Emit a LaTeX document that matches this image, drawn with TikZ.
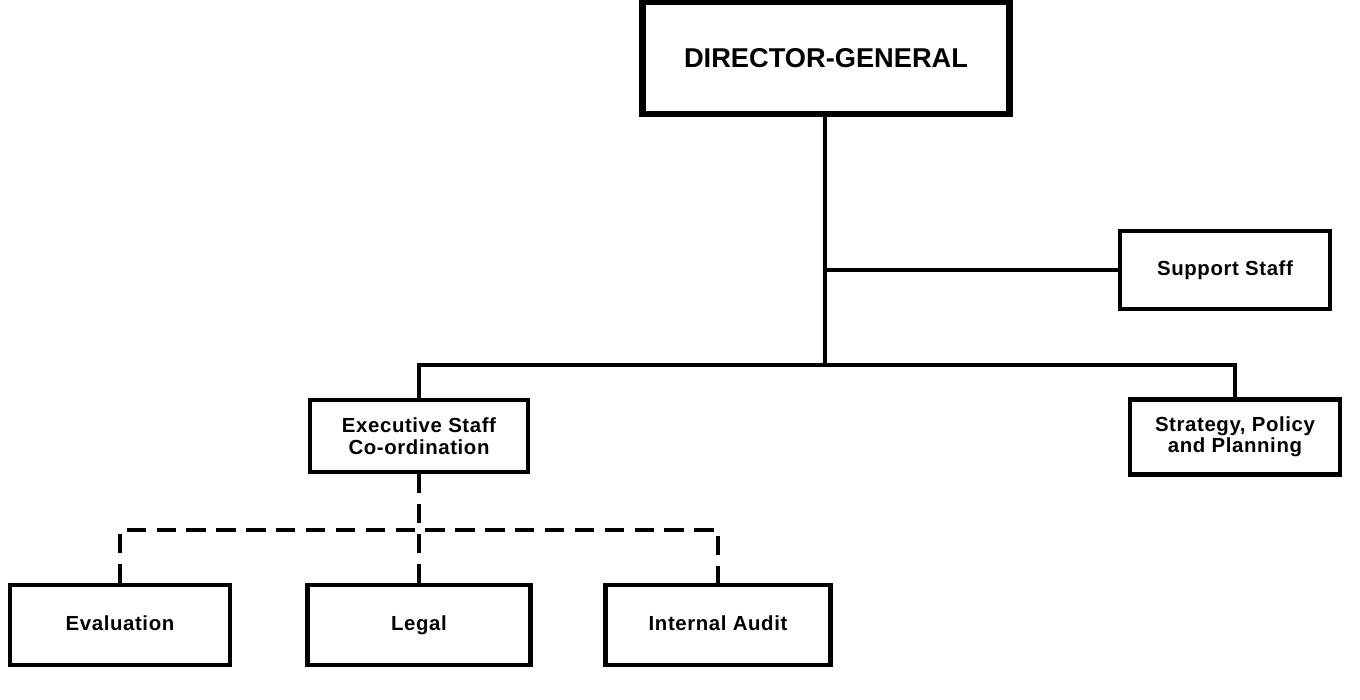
\documentclass[tikz,border=0pt]{standalone}
\usepackage{fontspec}
\setmainfont{Liberation Sans}
\newfontfamily\boxfont[LetterSpace=3]{Liberation Sans}
\begin{document}
\begin{tikzpicture}[x=0.02cm,y=-0.02cm,
  box/.style={draw, line width=2.3pt, fill=white, align=center, font=\boxfont\bfseries\fontsize{11.6}{12.2}\selectfont, inner sep=0pt},
  onebox/.style={box, text height=8.5pt, text depth=2.5pt},
  bigbox/.style={draw, line width=3.6pt, fill=white, align=center, font=\bfseries\fontsize{15.5}{16}\selectfont, inner sep=0pt},
  conn/.style={line width=1.9pt},
  dconn/.style={line width=1.9pt, dash pattern=on 11pt off 6pt}]
\useasboundingbox (0,0) rectangle (1360,700);
\node[bigbox, minimum width=367*0.02cm, minimum height=112*0.02cm] (dg) at (826,58) {DIRECTOR-GENERAL};
\node[onebox, minimum width=210*0.02cm, minimum height=78*0.02cm] (sup) at (1225,270) {Support Staff};
\node[box, minimum width=218*0.02cm, minimum height=72*0.02cm] (exec) at (419,436) {Executive Staff\\Co-ordination};
\node[box, minimum width=210*0.02cm, minimum height=75*0.02cm] (strat) at (1235,437) {Strategy, Policy\\and Planning};
\node[onebox, minimum width=220*0.02cm, minimum height=80*0.02cm] (eval) at (120,625) {Evaluation};
\node[onebox, minimum width=223*0.02cm, minimum height=80*0.02cm] (legal) at (419,625) {Legal};
\node[onebox, minimum width=225*0.02cm, minimum height=80*0.02cm] (audit) at (718,625) {Internal Audit};
\coordinate (j) at (825,365);
\coordinate (s) at (825,270);
\coordinate (d) at (419,530);
\draw[conn] (dg.south -| j) -- (j);
\draw[conn] (s) -- (sup.west);
\draw[conn] (exec.north) |- (j) -| (strat.north);
\draw[dconn] (exec.south) -- (legal.north);
\draw[dconn] (eval.north) |- (d) -| (audit.north);
\end{tikzpicture}
\end{document}
